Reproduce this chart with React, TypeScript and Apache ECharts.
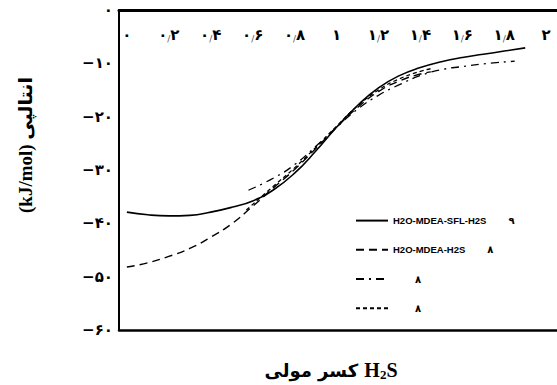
import React, { useEffect, useRef } from "react";
import * as echarts from "echarts";

const xTicks = [0, 0.2, 0.4, 0.6, 0.8, 1, 1.2, 1.4, 1.6, 1.8, 2];

const solidX = [0, 0.1, 0.2, 0.3, 0.4, 0.5, 0.6, 0.7, 0.8, 0.9, 1.0, 1.1, 1.2, 1.3, 1.4, 1.5, 1.6, 1.7, 1.8, 1.9];
const solidY = [-37.9, -38.4, -38.6, -38.5, -37.9, -37.0, -35.8, -33.7, -30.6, -26.5, -22.0, -17.9, -14.6, -12.3, -10.8, -9.7, -8.9, -8.3, -7.7, -7.1];

const dashX = [0, 0.1, 0.2, 0.3, 0.4, 0.5, 0.6, 0.7, 0.8, 0.9, 1.0, 1.1, 1.2, 1.3, 1.4, 1.45];
const dashY = [-48.2, -47.4, -46.2, -44.7, -42.6, -40.1, -36.8, -33.3, -29.9, -26.0, -22.0, -18.3, -15.3, -13.3, -12.0, -11.6];

const dotDashX = [0.58, 0.7, 0.8, 0.9, 1.0, 1.1, 1.2, 1.3, 1.4, 1.5, 1.6, 1.7, 1.85];
const dotDashY = [-33.8, -31.5, -29.0, -25.6, -22.0, -18.6, -16.0, -14.0, -12.3, -11.2, -10.6, -10.1, -9.6];

const shortX = [0.57, 0.7, 0.8, 0.9, 1.0, 1.1, 1.2, 1.3, 1.4, 1.45];
const shortY = [-37.5, -33.0, -29.6, -25.8, -21.8, -18.0, -15.0, -12.9, -11.5, -11.0];

const seriesNames = ["s1", "s2", "s3", "s4"];
const legendLabels = ["H2O-MDEA-SFL-H2S", "H2O-MDEA-H2S", "", ""];
const legendRefs = ["۹", "۸", "۸", "۸"];

const yTitle = "(kJ/mol) انتالپی";
const xTitlePersian = "کسر مولی ";

const faDigits = "۰۱۲۳۴۵۶۷۸۹";
const toFa = (s: string) => s.replace(/\d/g, (d) => faDigits[+d]);

const pairs = (xs: number[], ys: number[]) => xs.map((x, i) => [x, ys[i]]);

const xLabel = (v: number) => {
  const s = String(+v.toFixed(1));
  const parts = s.split(".");
  if (parts.length === 1) return `{d|${toFa(parts[0])}}`;
  return `{d|${toFa(parts[0])}}{s|/}{d|${toFa(parts[1])}}`;
};

export default function App() {
  const ref = useRef<HTMLDivElement>(null);
  useEffect(() => {
    document.body.style.margin = "0";
    if (!ref.current) return;
    const chart = echarts.init(ref.current, null, { renderer: "svg" });
    const lineBase = {
      type: "line",
      symbol: "none",
      smooth: true,
      xAxisIndex: 0,
      yAxisIndex: 0,
      color: "#000",
      itemStyle: { color: "#000" },
    };
    chart.setOption({
      animation: false,
      grid: { left: 119, top: 10, width: 445, height: 320, containLabel: false },
      xAxis: [
        {
          type: "value",
          position: "top",
          min: -8 / 213,
          max: -8 / 213 + 445 / 213,
          splitLine: { show: false },
          axisTick: { show: false },
          axisLine: { show: true, onZero: false, lineStyle: { color: "#000", width: 3 } },
          axisLabel: {
            inside: true,
            margin: 17,
            customValues: xTicks,
            formatter: xLabel,
            color: "#000",
            rich: {
              d: { fontSize: 15, fontWeight: "bold", fontFamily: "DejaVu Sans", color: "#000" },
              s: {
                fontSize: 9,
                fontWeight: "normal",
                fontFamily: "DejaVu Sans",
                color: "#555",
                padding: [7, 0, 0, 0],
              },
            },
          },
        },
        {
          type: "value",
          position: "bottom",
          min: 0,
          max: 1,
          splitLine: { show: false },
          axisTick: { show: false },
          axisLabel: { show: false },
          axisLine: { show: true, onZero: false, lineStyle: { color: "#000", width: 2.5 } },
        },
      ],
      yAxis: {
        type: "value",
        min: -60,
        max: 0,
        interval: 10,
        splitLine: { show: false },
        axisTick: { show: false },
        axisLine: { show: true, onZero: false, lineStyle: { color: "#000", width: 2 } },
        axisLabel: {
          margin: 6,
          formatter: (v: number) => (v < 0 ? "−" : "") + toFa(String(Math.abs(v))),
          color: "#000",
          fontSize: 15,
          fontWeight: "bold",
          fontFamily: "DejaVu Sans",
        },
      },
      legend: {
        orient: "vertical",
        left: 350,
        top: 210,
        itemWidth: 32,
        itemHeight: 14,
        itemGap: 18,
        data: seriesNames,
        itemStyle: { opacity: 0 },
        formatter: (name: string) => {
          const i = seriesNames.indexOf(name);
          return `{n|${legendLabels[i]}}{r|${legendRefs[i]}}`;
        },
        textStyle: {
          rich: {
            n: { fontSize: 9.5, fontWeight: "bold", fontFamily: "Liberation Sans", color: "#000" },
            r: {
              fontSize: 10,
              fontWeight: "bold",
              fontFamily: "DejaVu Sans",
              color: "#000",
              padding: [0, 0, 0, 22],
            },
          },
        },
      },
      series: [
        { ...lineBase, name: seriesNames[0], data: pairs(solidX, solidY), lineStyle: { color: "#000", width: 1.6, type: "solid" } },
        { ...lineBase, name: seriesNames[1], data: pairs(dashX, dashY), lineStyle: { color: "#000", width: 1.4, type: [8, 5] } },
        { ...lineBase, name: seriesNames[2], data: pairs(dotDashX, dotDashY), lineStyle: { color: "#000", width: 1.3, type: [8, 5, 2, 5] } },
        { ...lineBase, name: seriesNames[3], data: pairs(shortX, shortY), lineStyle: { color: "#000", width: 1.3, type: [4, 3] } },
      ],
      graphic: [
        {
          type: "text",
          x: 25,
          y: 145,
          rotation: Math.PI / 2,
          style: {
            text: yTitle,
            fill: "#000",
            font: "bold 19px 'Liberation Serif', 'DejaVu Sans'",
            textAlign: "center",
            textVerticalAlign: "middle",
          },
        },
        {
          type: "text",
          x: 331,
          y: 370,
          style: {
            text: `{p|${xTitlePersian}}{h|H}{s|2}{h|S}`,
            textAlign: "center",
            textVerticalAlign: "middle",
            rich: {
              p: { font: "bold 18px 'DejaVu Sans'", fill: "#000" },
              h: { font: "bold 20px 'Liberation Serif'", fill: "#000" },
              s: { font: "bold 13px 'Liberation Serif'", fill: "#000", padding: [8, 0, 0, 0] },
            },
          },
        },
      ],
    });
    return () => chart.dispose();
  }, []);
  return <div ref={ref} style={{ width: 557, height: 385 }} />;
}
